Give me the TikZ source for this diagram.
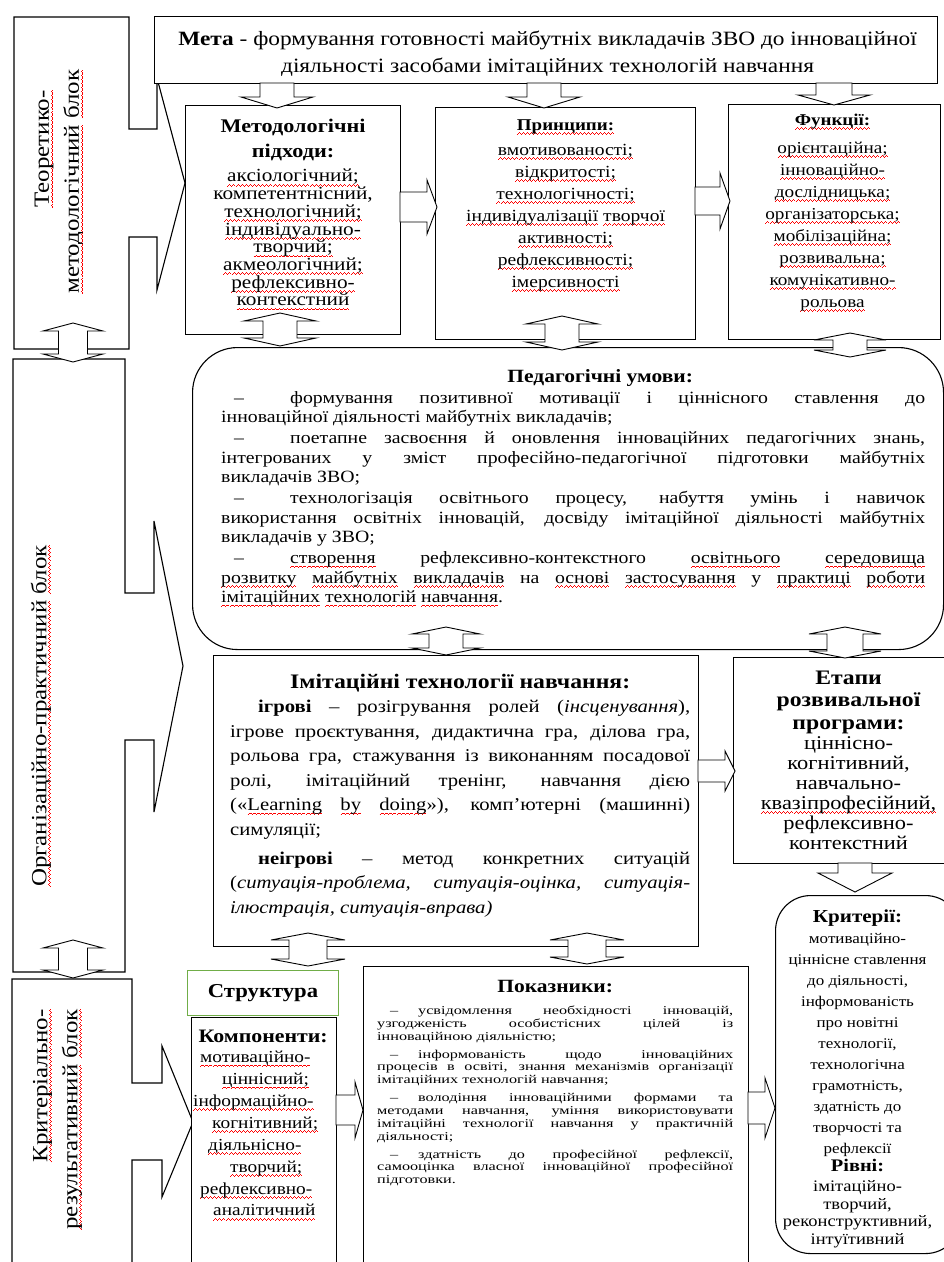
\documentclass[tikz,border=0pt]{standalone}
\usepackage{fontspec}
\setmainfont{Liberation Serif}[FakeStretch=1.15]
\newfontfamily\widefont{Liberation Serif}[FakeStretch=1.35]
\usepackage{tikz}
\usetikzlibrary{positioning}

\newcommand{\fs}[2]{\fontsize{#1}{#2}\selectfont}
\newcommand{\peddash}{\hspace*{13pt}\makebox[56pt][l]{–}}
\newcommand{\pokdash}{\hspace*{13pt}\makebox[28pt][l]{–}}
\newcommand{\lv}[1]{{\fs{16.1}{17.7}#1}}
% червона хвиляста лінія під словом
\newsavebox{\splbox}
\newcommand{\wv}{\hbox{\rule{1pt}{0.9pt}\rule[0.8pt]{1pt}{0.9pt}\rule[1.6pt]{1pt}{0.9pt}\rule[0.8pt]{1pt}{0.9pt}}}
\newcommand{\spl}[1]{\leavevmode\sbox{\splbox}{#1}\rlap{\raisebox{-4.5pt}{\color{red}\hbox to \wd\splbox{\xleaders\wv\hfil}}}\usebox{\splbox}}
% block arrows: x/y centre, start, tip, shaft half, head half, head length
\newcommand{\arrdown}[6]{\draw[blk] (#1-#4,#2) -- (#1+#4,#2) -- (#1+#4,#3-#6) -- (#1+#5,#3-#6) -- (#1,#3) -- (#1-#5,#3-#6) -- (#1-#4,#3-#6) -- cycle;}
\newcommand{\arrright}[6]{\draw[blk] (#2,#1-#4) -- (#3-#6,#1-#4) -- (#3-#6,#1-#5) -- (#3,#1) -- (#3-#6,#1+#5) -- (#3-#6,#1+#4) -- (#2,#1+#4) -- cycle;}
\newcommand{\arrupdown}[6]{\draw[blk] (#1,#2) -- (#1+#5,#2+#6) -- (#1+#4,#2+#6) -- (#1+#4,#3-#6) -- (#1+#5,#3-#6) -- (#1,#3) -- (#1-#5,#3-#6) -- (#1-#4,#3-#6) -- (#1-#4,#2+#6) -- (#1-#5,#2+#6) -- cycle;}

\begin{document}
\begin{tikzpicture}[x=1pt,y=-1pt]
    \definecolor{strgreen}{RGB}{112,173,71}
    \tikzstyle{box}=[rectangle,draw,line width=1.1pt,fill=white,inner sep=0pt,anchor=north west]
    \tikzstyle{rbox}=[box,rounded corners=45pt]
    \tikzstyle{txt}=[inner sep=0pt,align=center,anchor=north]
    \tikzstyle{blk}=[draw,line width=0.9pt,fill=white]
    \tikzstyle{side}=[draw,line width=1.1pt,fill=white]

    \useasboundingbox (0,0) rectangle (944,1262);

    % блоки зліва
    \draw[side] (14,17) -- (129,17) -- (129,129) -- (157,129) -- (157,78) -- (185,183) -- (157,290) -- (157,237) -- (129,237) -- (129,349) -- (14,349) -- cycle;
    \draw[side] (13,359) -- (125,359) -- (125,593) -- (154,593) -- (154,521) -- (183,666) -- (154,812) -- (154,740) -- (125,740) -- (125,972) -- (13,972) -- cycle;
    \draw[side] (12,979) -- (132,979) -- (132,1083) -- (162,1083) -- (162,1046) -- (193,1122) -- (162,1197) -- (162,1160) -- (132,1160) -- (132,1275) -- (12,1275) -- cycle;
    \node[inner sep=0pt,rotate=90,align=left,font=\fs{21.7}{30}] (teorblk) at (59,181.5) {\hspace*{86pt}\spl{Теоретико-}\\\spl{методологічний} \spl{блок}};
    \node[inner sep=0pt,rotate=90,font=\fs{21.7}{30}] (orgblk) at (41,716) {\spl{Організаційно-практичний} \spl{блок}};
    \node[inner sep=0pt,rotate=90,align=right,font=\fs{21.7}{30}] (kritblk) at (57.5,1119.5) {\spl{Критеріально-}\\\spl{результативний} \spl{блок}};

    % рамки
    \node[box,minimum width=783pt,minimum height=67pt] (meta) at (154,16) {};
    \node[box,minimum width=215pt,minimum height=229pt] (method) at (185,105) {};
    \node[box,minimum width=260pt,minimum height=232pt] (princ) at (435,107) {};
    \node[box,minimum width=212pt,minimum height=235pt] (func) at (728,104) {};
    \node[rbox,minimum width=751pt,minimum height=302pt] (ped) at (192,347) {};
    \node[box,minimum width=485pt,minimum height=291pt] (imit) at (213,655) {};
    \node[box,minimum width=217pt,minimum height=206pt] (etapy) at (733,657) {};
    \node[box,rounded corners=35pt,minimum width=185pt,minimum height=358pt] (krit) at (775,895) {};
    \node[box,draw=strgreen,minimum width=151pt,minimum height=45pt,font=\fs{19.7}{22}\bfseries] (struct) at (187,970) {Структура};
    \node[box,minimum width=145pt,minimum height=260pt] (komp) at (191,1017) {};
    \node[box,minimum width=385pt,minimum height=310pt] (pokaz) at (363,966) {};

    % стрілки
    \arrdown{277}{83}{108}{17}{36}{11}
    \arrdown{544}{83}{108}{17}{36}{11}
    \arrdown{834}{83}{105}{18}{36}{10}
    \arrright{207}{400}{437}{15}{27}{10}
    \arrright{201}{695}{730}{14}{28}{10}
    \arrupdown{280}{313}{346}{17}{36}{8}
    \arrupdown{562}{316}{350}{17}{36}{8}
    \arrupdown{850}{333}{357}{17}{36}{7}
    \arrupdown{446}{627}{655}{17}{34}{7}
    \arrupdown{845}{627}{658}{18}{36}{7}
    \arrright{771}{698}{735}{11}{20}{10}
    \arrdown{855}{863}{892}{17}{37}{19}
    \arrupdown{308}{933}{966}{19}{37}{7}
    \arrupdown{587}{933}{964}{19}{37}{7}
    \arrupdown{73}{323}{362}{14.5}{30}{8}
    \arrupdown{73}{940}{978}{14.5}{30}{8}
    \arrright{1110}{336}{363}{15}{28}{8}
    \arrright{1108}{748}{775}{16}{30}{10}

    % тексти
    \node[txt,font=\fs{20.3}{27},below=14.9pt of meta.north,xshift=1.5pt] (metatxt) {\textbf{Мета} - формування готовності майбутніх викладачів ЗВО до інноваційної\\діяльності засобами імітаційних технологій навчання};
    \node[txt,font=\fs{18.5}{17.7},below=14.4pt of method.north] (methodtxt) {{\fs{19.3}{17.7}\bfseries Методологічні}\\[7.3pt]{\fs{19.3}{17.7}\bfseries підходи:}\\[6.3pt]\spl{аксіологічний;}\\компетентнісний,\\\spl{технологічний;}\\\spl{індивідуально-}\\\spl{творчий;}\\\spl{акмеологічний;}\\\spl{рефлексивно-}\\\spl{контекстний}};
    \node[txt,font=\fs{17}{22},below=12.4pt of princ.north] (princtxt) {{\fs{16.5}{22}\bfseries \spl{Принципи:}}\\[3pt]\spl{вмотивованості;}\\\spl{відкритості;}\\\spl{технологічності;}\\\spl{індивідуалізації} \spl{творчої}\\\spl{активності;}\\\spl{рефлексивності;}\\\spl{імерсивності}};
    \node[txt,font=\fs{16.7}{22},below=9.5pt of func.north,xshift=-2pt] (functxt) {{\fs{16.5}{22}\bfseries \spl{Функції:}}\\[6pt]\spl{орієнтаційна;}\\\spl{інноваційно-}\\\spl{дослідницька;}\\\spl{організаторська;}\\\spl{мобілізаційна;}\\\spl{розвивальна;}\\\spl{комунікативно-}\\\spl{рольова}};
    \node[inner sep=0pt,below right=22pt and 29pt of ped.north west] (pedtxt) {\begin{minipage}{704pt}\fs{17.2}{19.5}\setlength{\parindent}{0pt}\setlength{\parskip}{1.5pt}
        \makebox[\linewidth][c]{\hspace*{54pt}{\fs{18.7}{19.5}\bfseries Педагогічні умови:}}\par
        \peddash формування позитивної мотивації і ціннісного ставлення до\linebreak інноваційної діяльності майбутніх викладачів;\par
        \peddash поетапне засвоєння й оновлення інноваційних педагогічних знань,\linebreak інтегрованих у зміст професійно-педагогічної підготовки майбутніх\linebreak викладачів ЗВО;\par
        \peddash технологізація освітнього процесу, набуття умінь і навичок\linebreak використання освітніх інновацій, досвіду імітаційної діяльності майбутніх\linebreak викладачів у ЗВО;\par
        \peddash \spl{створення} рефлексивно-контекстного \spl{освітнього} \spl{середовища}\linebreak \spl{розвитку} \spl{майбутніх} \spl{викладачів} на \spl{основі} \spl{застосування} у \spl{практиці} \spl{роботи}\linebreak \spl{імітаційних} \spl{технологій} \spl{навчання}.\par
        \end{minipage}};
    \node[inner sep=0pt,below right=18.5pt and 17pt of imit.north west] (imittxt) {\begin{minipage}{460pt}\fs{18}{24.5}\setlength{\parindent}{28pt}
        {\centering\fs{20.6}{24.5}\bfseries Імітаційні технології навчання:\par}
        \textbf{ігрові} – розігрування ролей (\textit{інсценування}),\linebreak ігрове проєктування, дидактична гра, ділова гра,\linebreak рольова гра, стажування із виконанням посадової\linebreak ролі, імітаційний тренінг, навчання дією\linebreak («\spl{Learning} \spl{by} \spl{doing}»), комп’ютерні (машинні)\linebreak симуляції;\par
        \vspace{4.5pt}
        \textbf{неігрові} – метод конкретних ситуацій\linebreak (\textit{ситуація-проблема, ситуація-оцінка, ситуація-}\linebreak \textit{ілюстрація, ситуація-вправа)}\par
        \end{minipage}};
    \node[txt,font=\fs{19.5}{20},below=13.6pt of etapy.north,xshift=6.5pt] (etapytxt) {{\fs{20.6}{21.5}\bfseries Етапи}\\[2pt]{\fs{20.6}{21.5}\bfseries розвивальної}\\[3pt]{\fs{20.6}{21.5}\bfseries програми:}\\ціннісно-\\когнітивний,\\навчально-\\\spl{квазіпрофесійний,}\\рефлексивно-\\контекстний};
    \node[txt,font=\fs{14.8}{21}, below=15pt of krit.north,xshift=-10.5pt] (krittxt) {{\fs{18.3}{21}\bfseries Критерії:}\\мотиваційно-\\ціннісне ставлення\\до діяльності,\\інформованість\\про новітні\\технології,\\технологічна\\грамотність,\\здатність до\\творчості та\\рефлексії\\[-3pt]{\fs{17.7}{21}\bfseries Рівні:}\\[-1.5pt]\lv{імітаційно-}\\[-3.3pt]\lv{творчий,}\\[-3.3pt]\lv{реконструктивний,}\\[-3.3pt]\lv{інтуїтивний}};
    \node[inner sep=0pt,below right=13pt and 2pt of komp.north west] (komptxt) {\begin{minipage}{140pt}\setlength{\parindent}{0pt}
        {\centering\fs{19}{21.9}\bfseries Компоненти:\par}
        \vspace{-1.9pt}
        {\raggedright\fs{16.8}{21.9}\hspace*{7pt}\spl{мотиваційно-}\\\hspace*{29pt}\spl{ціннісний;}\\\spl{інформаційно-}\\\hspace*{19pt}\spl{когнітивний;}\\\hspace*{15pt}\spl{діяльнісно-}\\\hspace*{37pt}\spl{творчий;}\\\hspace*{7pt}\spl{рефлексивно-}\\\hspace*{20pt}\spl{аналітичний}\par}
        \end{minipage}};
    \node[inner sep=0pt,below right=14pt and 14pt of pokaz.north west] (pokaztxt) {\begin{minipage}{356pt}\setlength{\parindent}{0pt}
        {\centering\fs{18.7}{20}\bfseries Показники:\par}
        \vspace{4pt}
        \widefont\fs{12}{12.8}\setlength{\parskip}{5.2pt}
        \pokdash усвідомлення необхідності інновацій,\linebreak узгодженість особистісних цілей із\linebreak інноваційною діяльністю;\par
        \pokdash інформованість щодо інноваційних\linebreak процесів в освіті, знання механізмів організації\linebreak імітаційних технологій навчання;\par
        \pokdash володіння інноваційними формами та\linebreak методами навчання, уміння використовувати\linebreak імітаційні технології навчання у практичній\linebreak діяльності;\par
        \pokdash здатність до професійної рефлексії,\linebreak самооцінка власної інноваційної професійної\linebreak підготовки.\par
        \end{minipage}};
\end{tikzpicture}
\end{document}
